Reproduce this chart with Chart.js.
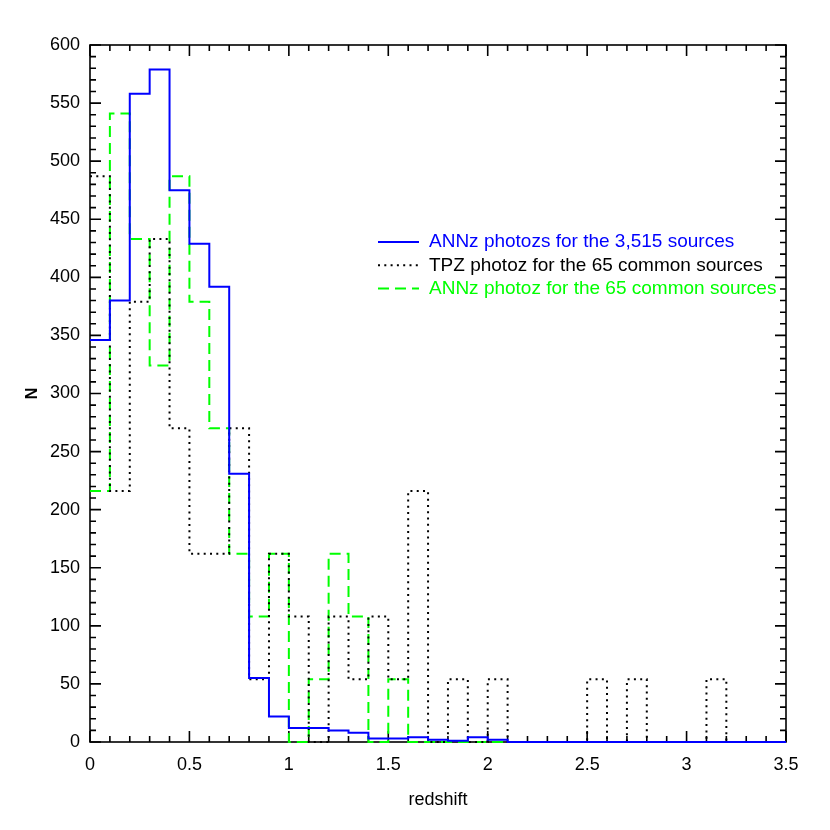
<!DOCTYPE html>
<html>
<head>
<meta charset="utf-8">
<script src="https://cdn.jsdelivr.net/npm/chart.js@4.4.0/dist/chart.umd.min.js"></script>
<style>
  html, body { margin: 0; padding: 0; background: #fff; }
  #wrap { width: 830px; height: 830px; }
</style>
</head>
<body>
<div id="wrap"><canvas id="myChart" width="830" height="830"></canvas></div>
<script>
// left edge of each redshift bin (width 0.1)
const binLeft = [0, 0.1, 0.2, 0.3, 0.4, 0.5, 0.6, 0.7, 0.8, 0.9,
  1.0, 1.1, 1.2, 1.3, 1.4, 1.5, 1.6, 1.7, 1.8, 1.9,
  2.0, 2.1, 2.2, 2.3, 2.4, 2.5, 2.6, 2.7, 2.8, 2.9,
  3.0, 3.1, 3.2, 3.3, 3.4];
const binEnd = 3.5;

const annzAll = [346, 380, 558, 579, 475, 429, 392, 231, 55, 22,
  12, 12, 10, 8, 3, 3, 4, 2, 1, 4,
  2, 0, 0, 0, 0, 0, 0, 0, 0, 0,
  0, 0, 0, 0, 0];
const tpzCommon = [487, 216, 379, 433, 270, 162, 162, 270, 54, 162,
  108, 0, 108, 54, 108, 54, 216, 0, 54, 0,
  54, 0, 0, 0, 0, 54, 0, 54, 0, 0,
  0, 54, 0, 0, 0];
const annzCommon = [216, 541, 433, 324, 487, 379, 270, 162, 108, 162,
  0, 54, 162, 108, 0, 54, 0, 0, 0, 0,
  0, 0, 0, 0, 0, 0, 0, 0, 0, 0,
  0, 0, 0, 0, 0];

const seriesLabels = [
  'ANNz photozs for the 3,515 sources',
  'TPZ photoz for the 65 common sources',
  'ANNz photoz for the 65 common sources'
];

const fam = "'Liberation Sans', Arial, Helvetica, sans-serif";
Chart.defaults.font.family = fam;
Chart.defaults.color = '#000';

function steps(vals) {
  const pts = binLeft.map((x, i) => ({ x: x, y: vals[i] }));
  pts.push({ x: binEnd, y: vals[vals.length - 1] });
  return pts;
}

// box around the plot with inward ticks on all four sides
const frameTicks = {
  id: 'frameTicks',
  beforeDatasetsDraw(chart) {
    const { ctx, chartArea: a, scales: { x, y } } = chart;
    ctx.save();
    ctx.strokeStyle = '#000';
    ctx.lineWidth = 1.6;
    ctx.strokeRect(a.left, a.top, a.right - a.left, a.bottom - a.top);
    ctx.beginPath();
    for (let v = 0; v <= 600; v += 10) {
      const py = y.getPixelForValue(v);
      const len = v % 50 === 0 ? 11 : 6;
      ctx.moveTo(a.left, py); ctx.lineTo(a.left + len, py);
      ctx.moveTo(a.right, py); ctx.lineTo(a.right - len, py);
    }
    for (let i = 0; i <= 35; i++) {
      const px = x.getPixelForValue(i / 10);
      const len = i % 5 === 0 ? 11 : 6;
      ctx.moveTo(px, a.bottom); ctx.lineTo(px, a.bottom - len);
      ctx.moveTo(px, a.top); ctx.lineTo(px, a.top + len);
    }
    ctx.stroke();
    ctx.restore();
  }
};

// legend drawn inside the plot, text in the series colour
const innerLegend = {
  id: 'innerLegend',
  afterDraw(chart) {
    const ctx = chart.ctx;
    ctx.save();
    ctx.font = '19px ' + fam;
    ctx.textBaseline = 'middle';
    chart.data.datasets.forEach((ds, i) => {
      const yy = 242 + i * 23.3;
      ctx.strokeStyle = ds.borderColor;
      ctx.lineWidth = ds.borderWidth;
      ctx.setLineDash(ds.borderDash || []);
      ctx.beginPath();
      ctx.moveTo(378, yy);
      ctx.lineTo(419, yy);
      ctx.stroke();
      ctx.fillStyle = ds.borderColor;
      ctx.fillText(ds.label, 429, yy);
    });
    ctx.restore();
  }
};

const config = {
  type: 'line',
  data: {
    datasets: [{
      label: seriesLabels[0],
      data: steps(annzAll),
      borderColor: '#0000ff',
      borderWidth: 2,
      stepped: true,
      pointRadius: 0,
      clip: 3,
      fill: false
    },
    {
      label: seriesLabels[1],
      data: steps(tpzCommon),
      borderColor: '#000000',
      borderWidth: 2,
      borderDash: [2, 4.3],
      stepped: true,
      pointRadius: 0,
      clip: 3,
      fill: false
    },
    {
      label: seriesLabels[2],
      data: steps(annzCommon),
      borderColor: '#00ff00',
      borderWidth: 2,
      borderDash: [11, 6],
      stepped: true,
      pointRadius: 0,
      clip: 3,
      fill: false
    }]
  },
  options: {
    responsive: false,
    animation: false,
    layout: { padding: { left: 0, right: 44, top: 45, bottom: 0 } },
    scales: {
      x: {
        type: 'linear',
        min: 0,
        max: 3.5,
        afterFit: s => { s.height = 88; },
        grid: { display: false, drawTicks: false },
        border: { display: false },
        ticks: {
          stepSize: 0.5, font: { size: 18 }, color: '#000', padding: 12, maxRotation: 0,
          callback: v => String(v)
        },
        title: { display: true, text: 'redshift', font: { size: 18 }, color: '#000', padding: { top: 0, bottom: 19 } }
      },
      y: {
        min: 0,
        max: 600,
        afterFit: s => { s.width = 90; },
        grid: { display: false, drawTicks: false },
        border: { display: false },
        ticks: { stepSize: 50, font: { size: 18 }, color: '#000', padding: 10 },
        title: { display: true, text: 'N', font: { size: 16, weight: 'bold' }, color: '#000', padding: { top: 23, bottom: 0 } }
      }
    },
    plugins: {
      legend: { display: false },
      tooltip: { enabled: false }
    }
  },
  plugins: [frameTicks, innerLegend]
};

const myChart = new Chart(document.getElementById('myChart'), config);
</script>
</body>
</html>
